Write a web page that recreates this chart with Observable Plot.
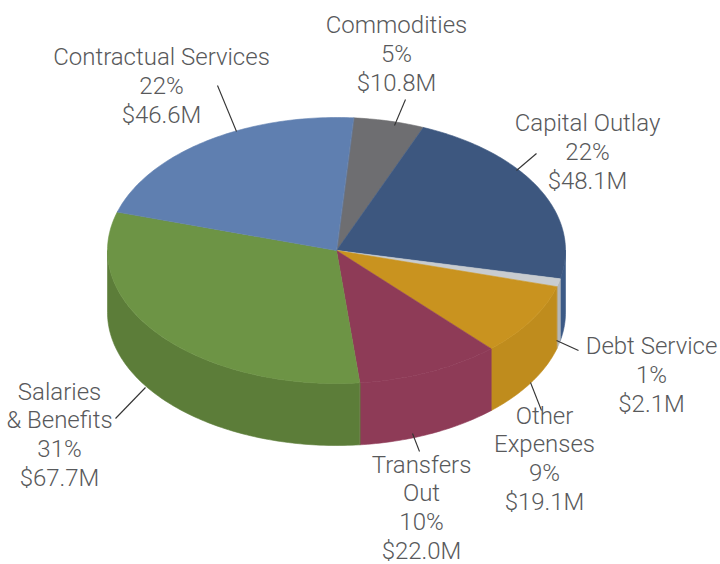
<!DOCTYPE html>
<html>
<head>
<meta charset="utf-8">
<script src="https://cdn.jsdelivr.net/npm/d3@7"></script>
<script src="https://cdn.jsdelivr.net/npm/@observablehq/plot@0.6"></script>
<style>
  html, body { margin: 0; padding: 0; background: #fff; }
  svg { display: block; }
</style>
</head>
<body>
<div id="chart"></div>
<script>
// Budget by expenditure category, in millions of dollars, clockwise from the top
const categories = ["Commodities", "Capital Outlay", "Debt Service", "Other Expenses", "Transfers Out", "Salaries & Benefits", "Contractual Services"];
const amounts = [10.8, 48.1, 2.1, 19.1, 22.0, 67.7, 46.6];
const labelTexts = [
  "Commodities\n5%\n$10.8M",
  "Capital Outlay\n22%\n$48.1M",
  "Debt Service\n1%\n$2.1M",
  "Other\nExpenses\n9%\n$19.1M",
  "Transfers\nOut\n10%\n$22.0M",
  "Salaries\n& Benefits\n31%\n$67.7M",
  "Contractual Services\n22%\n$46.6M"
];
const topColors = ["#6e6e71", "#3d577f", "#c8ccd0", "#c9931f", "#8e3b57", "#6d9445", "#5f7fb0"];
const sideColors = ["#5c5d60", "#3c5a86", "#b3b7bb", "#bf8c1d", "#8e3b57", "#5c7d39", "#4f6a94"];

// Placement of each label block and the leader running to its slice
const labelX = [396, 587, 651, 544, 421, 59, 161];
const labelY = [52, 150, 373, 457, 506, 433, 84];
const leaderFrom = [[405, 99], [536, 153], [578, 350], [541, 410], [419, 451], [115, 418], [217, 85]];
const leaderTo = [[394, 125], [516, 170], [556, 340], [530, 382], [412, 433], [145, 387], [236, 131]];

// The tilted disc: an ellipse for the top face plus a vertical wall
const disc = {cx: 336, cy: 250, rx: 229, ry: 133, depth: 62, startDeg: 4.3};
const total = d3.sum(amounts);
const edge = (deg, drop = 0) => {
  const t = deg * Math.PI / 180;
  return {x: disc.cx + disc.rx * Math.sin(t), y: disc.cy - disc.ry * Math.cos(t) + drop};
};
const arc = (a, b) => {
  const n = Math.max(2, Math.ceil(Math.abs(b - a)));
  return d3.range(n + 1).map((i) => a + (b - a) * i / n);
};

let running = disc.startDeg;
const slices = amounts.map((v, i) => {
  const from = running;
  running += v / total * 360;
  return {i, from, to: running};
});

// Top face of a slice: centre, then along the rim
const topFaces = slices.flatMap((s) => [
  {x: disc.cx, y: disc.cy, slice: s.i},
  ...arc(s.from, s.to).map((d) => ({...edge(d), slice: s.i}))
]);

// Wall of a slice: only the part of the rim facing the viewer
const wallFaces = slices.flatMap((s) => {
  const a = Math.max(s.from, 90), b = Math.min(s.to, 270);
  if (a >= b) return [];
  const degs = arc(a, b);
  return [
    ...degs.map((d) => ({...edge(d), slice: s.i})),
    ...degs.slice().reverse().map((d) => ({...edge(d, disc.depth), slice: s.i}))
  ];
});

const labels = categories.map((name, i) => ({name, text: labelTexts[i], x: labelX[i], y: labelY[i]}));
const leaders = categories.map((name, i) => ({x1: leaderFrom[i][0], y1: leaderFrom[i][1], x2: leaderTo[i][0], y2: leaderTo[i][1]}));

const face = (rows, colors) => Plot.line(rows, {
  x: "x", y: "y", z: "slice",
  fill: (d) => colors[d.slice],
  stroke: (d) => colors[d.slice],
  strokeWidth: 0.6,
  curve: "linear-closed"
});

const chart = Plot.plot({
  width: 720,
  height: 564,
  margin: 0,
  x: {domain: [0, 720], range: [0, 720], axis: null},
  y: {domain: [0, 564], range: [0, 564], axis: null},
  color: {type: "identity"},
  style: {background: "#fff"},
  marks: [
    face(wallFaces, sideColors),
    face(topFaces, topColors),
    Plot.link(leaders, {x1: "x1", y1: "y1", x2: "x2", y2: "y2", stroke: "#333", strokeWidth: 1.1, curve: "linear"}),
    Plot.text(labels, {
      x: "x", y: "y", text: "text",
      fontFamily: "Roboto", fontWeight: 300, fontSize: 24,
      fill: "#58595b", lineHeight: 1.2, textAnchor: "middle", lineAnchor: "middle"
    })
  ]
});
document.getElementById("chart").appendChild(chart);
</script>
</body>
</html>
